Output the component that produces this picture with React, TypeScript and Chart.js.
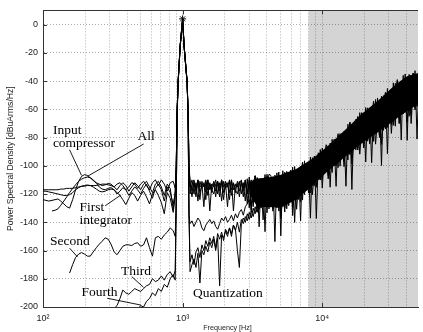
import React, { useEffect, useRef } from 'react';
import { Chart, registerables } from 'chart.js';

Chart.register(...registerables);

// ---------- axes ----------
const X_MIN = 100;
const X_MAX = 48500;
const Y_MIN = -200;
const Y_MAX = 10;
const X_TICKS = [100, 200, 300, 400, 500, 600, 700, 800, 900, 1000, 2000, 3000, 4000, 5000, 6000, 7000, 8000, 9000, 10000, 20000, 30000, 40000];
const X_TICK_LABELS: Record<number, string> = { 100: '10\u00B2', 1000: '10\u00B3', 10000: '10\u2074' };
const Y_TICKS = [-200, -180, -160, -140, -120, -100, -80, -60, -40, -20, 0];
const SHADE_FROM = 8000;
const X_TITLE = 'Frequency [Hz]';
const Y_TITLE = 'Power Spectral Density [dBuArms/Hz]';

// ---------- frequency grids ----------
const F_LO = [100, 105, 110, 116, 122, 128, 134, 141, 148, 155, 163, 171, 180, 189, 198, 208, 218, 229, 241, 253, 265, 279, 293, 307, 323, 339, 356, 373, 392, 412, 432, 454, 476, 500, 525, 551, 579, 608, 638, 670, 704, 739, 776, 815, 856, 885];
const F_PEAK = [900, 914, 929, 960, 1000, 1025, 1076, 1093, 1111];
const F_HI = [1130, 1167, 1206, 1246, 1287, 1330, 1374, 1419, 1466, 1515,
  1565, 1617, 1670, 1725, 1782, 1841, 1902, 1965, 2030, 2097,
  2167, 2238, 2312, 2389, 2468, 2550, 2634, 2721, 2811, 2904,
  3000, 3099, 3202, 3308, 3417, 3530, 3647, 3768, 3892, 4021,
  4154, 4292, 4434, 4580, 4732, 4888, 5050, 5217, 5390, 5568,
  5752, 5943, 6139, 6342, 6552, 6769, 6993, 7224, 7463, 7710,
  7965, 8229, 8501, 8782, 9073, 9373, 9683, 10003, 10334, 10676,
  11030, 11395, 11772, 12161, 12564, 12979, 13409, 13852, 14311, 14784,
  15274, 15779, 16301, 16841, 17398, 17974, 18568, 19183, 19818, 20474,
  21151, 21851, 22574, 23321, 24093, 24890, 25714, 26565, 27444, 28352,
  29290, 30260, 31261, 32296, 33364, 34469, 35609, 36788, 38005, 39263,
  40563, 41905, 43292, 44724, 46204, 47734, 49313];

// dense part of the shaped-noise band (where traces overlap solidly)
const BAND_F = [3000, 3417, 3892, 4434, 5050, 5752, 6552, 7463, 8501, 9683, 11030, 12564, 14311, 16301, 18568, 21151, 24093, 27444, 31261, 35609, 40563, 46204, 49313];
const BAND_TOP = [-112, -109.1, -108.4, -107.7, -106.4, -104.3, -102.2, -98.6, -95, -90.4, -85.8, -80.6, -75.3, -70, -64.5, -59.8, -55.4, -50.4, -45.2, -40.6, -36.6, -35, -34.2];
const BAND_BOT = [-120, -128.8, -129.2, -129.4, -129.8, -126.8, -123.8, -119, -114.25, -108.9, -103.55, -99, -94.4, -89.8, -85.1, -81.2, -77.5, -73.5, -69.3, -65.2, -61.2, -57.6, -55.8];

// ---------- signal peak ----------
const PEAK_UPPER = [-100, -60, -40, -15, 4, -15, -40, -60, -100];
const PEAK_LOWER = [-125, -62, -41, -16, 4, -16, -41, -62, -135];
const TONE_F = [1000];
const TONE_DB = [4];

// ---------- series (dB) ----------
const OUT_LO = [-117, -117, -117, -117, -117, -117, -116.5, -116.5, -116, -116,
  -116, -115.5, -115, -114.5, -114.5, -114, -114, -114, -114, -113.5,
  -113, -113, -113.5, -114, -115, -113, -112, -114, -117, -115,
  -112, -113, -116, -113, -111, -114, -117, -112, -110, -114,
  -110, -113, -118, -112, -111, -116];
const OUT_HI = [-111, -118, -112, -122, -110, -115, -113, -129, -111, -117,
  -113, -119, -111, -118, -112, -122, -110, -115, -113, -129,
  -111, -117, -113, -119, -111, -118, -112, -122, -110, -127,
  -108, -131.2, -109.9, -125, -108.3, -143.2, -110.5, -129, -106.2, -133.3,
  -111.3, -126.6, -107.7, -153.7, -105, -132.1, -107, -127.5, -104.5, -130.5,
  -106.4, -121.8, -101, -140.1, -105.6, -122.6, -100.4, -124.3, -96.5, -115.2,
  -97.3, -137.1, -94.3, -114.1, -94.4, -109, -88.5, -109.9, -90.95, -101.4,
  -85.8, -115.2, -81.3, -100.1, -81.1, -101.4, -77.2, -93.1, -77, -114.5,
  -70.6, -92.2, -73.1, -87.3, -67.2, -88.9, -62.4, -79.9, -62.6, -97.3,
  -59, -80.3, -59.6, -82.75, -53.1, -73.75, -56.6, -99.8, -50.4, -74,
  -45.3, -68.8, -45.8, -71.4, -41.6, -61.4, -42.8, -81.8, -36, -62.2,
  -40.4, -65, -35.8, -55.5, -32.7, -81.1, -34.8];

const INPUT_LO = [-124, -124.5, -125, -124.5, -124, -123.5, -125, -127, -129, -130,
  -124, -117, -111, -107.5, -106.3, -106.8, -108.5, -110.5, -112, -113,
  -114, -113.5, -112.5, -113, -115, -117, -114, -112, -114, -118,
  -115, -112, -114, -117, -113, -111, -115, -119, -113, -111,
  -115, -121, -113, -116, -131, -118];
const INPUT_HI = [-115, -110, -120, -112, -125, -111, -116, -113, -118.5, -110,
  -132, -113, -115, -110, -120, -112, -125, -111, -116, -113,
  -119, -110, -132, -113, -115, -111, -120, -112, -125, -109.2,
  -129.8, -111.3, -126.2, -107.2, -132.7, -109.4, -129, -111.7, -146.7, -106,
  -125.1, -109, -132.2, -106.6, -129.8, -109.1, -149.6, -103.5, -129.8, -105.5,
  -123.9, -107.3, -129.6, -100.5, -123.8, -102.4, -139.1, -98.7, -115, -99.5,
  -119.2, -93.9, -113, -94.4, -137.3, -94.5, -110.1, -87.4, -103.9, -87.9,
  -107, -83.9, -101.3, -83.6, -114.6, -77.3, -93, -77.2, -96.9, -77,
  -90.8, -69.25, -116.8, -69.6, -88.8, -65.1, -82.5, -65, -87.2, -58.75,
  -81.2, -59.3, -97.8, -60, -73.2, -52, -78.5, -52.9, -72, -48.2,
  -91.4, -48.65, -70.9, -41.3, -64, -42.2, -70, -43.4, -63.2, -35,
  -82, -37.5, -54.8, -34.5, -60.5, -36.6, -54.4];

const ALL_LO = [null, null, null, -132, -131.5, -130.5, -128, -125, -122, -119,
  -116, -113.5, -111, -109.5, -108.5, -108, -108.5, -110, -112.5, -115,
  -116.5, -117, -116, -115.5, -117, -120, -118, -115.5, -117, -121,
  -118, -115, -117, -120, -116, -113, -118, -123, -116, -113,
  -117, -125, -115, -119, -127, -120];
const ALL_HI = [-113, -122, -111, -116, -110, -119, -114, -112, -124, -110,
  -117, -113, -113, -122, -111, -116, -110, -119, -114, -112,
  -124, -110, -117, -113, -113, -122, -111, -116, -110, -120,
  -114, -110, -129, -107, -117, -111, -112, -125, -108, -116,
  -106, -107, -130.8, -115.2, -128.3, -109.1, -137.4, -118.5, -132.8, -104,
  -128.3, -111.7, -122.5, -104.7, -130.8, -112.9, -125.5, -98.7, -120.4, -104.7,
  -114, -97.7, -120.5, -104.25, -115.25, -90.8, -110.1, -95.7, -103.9, -88.6,
  -109.3, -94.3, -104.8, -81.2, -100.2, -85.7, -94.2, -78.4, -100.6, -84.5,
  -95.9, -70.5, -91.1, -75.6, -84.8, -67.75, -91.8, -74.5, -87.15, -60.15,
  -82.6, -66.3, -76.6, -58.55, -84.7, -66.5, -80, -50.8, -75, -57.3,
  -68.3, -48.65, -77.1, -57.15, -72, -40.6, -66.8, -48.2, -60, -39.8,
  -69.2, -49.35, -64, -34.5, -59.1, -42.3, -53];

const FIRST_LO = [-118, -118, -118.5, -119, -119.5, -120, -120.5, -121, -121, -120.5,
  -119, -117, -115.5, -114.5, -114, -113.6, -114, -115, -116.5, -118,
  -118.5, -118, -117, -116.5, -117, -119, -121, -124, -127.5, -123,
  -119, -121, -125, -121, -118, -122, -127, -120, -117, -121,
  -126, -134, -119, -123, -133, -122];
const FIRST_HI = [-120, -113, -110, -118, -112, -124, -111, -115, -110, -121,
  -112, -117, -120, -113, -111, -118, -112, -124, -111, -115,
  -110, -121, -112, -117, -120, -113, -110, -118, -112, -118.8,
  -110.3, -132.4, -114.9, -107.2, -127.6, -121.1, -110.5, -138.3, -117, -107.4,
  -130.6, -118.2, -108.2, -125.2, -114.3, -104.5, -134.4, -120, -107.5, -126.1,
  -113.7, -103, -135.3, -113.2, -102.8, -123.9, -106.4, -97.4, -115, -110,
  -98.6, -119.3, -103, -93.1, -110.4, -100.5, -90.9, -115.8, -93.3, -85.1,
  -104.7, -95.5, -84.8, -96.6, -88.3, -78.5, -100.3, -85.7, -75.8, -92,
  -78.2, -69.25, -98.8, -80.8, -69, -87.6, -73.1, -62.35, -79, -71.1,
  -60.4, -84.5, -63.9, -54.25, -76.1, -68, -55.1, -84.9, -60, -48.2,
  -72.9, -58, -45.8, -63.5, -49.6, -39, -70, -54.6, -40.8, -60.6,
  -46.8, -35.3, -70.1, -46.5, -35.6, -58.1, -40.4];

const SECOND_LO = [null, null, null, null, null, null, null, null, null, -176,
  -170, -165, -162.5, -161.5, -162.5, -164, -164, -161, -158, -155.5,
  -153.5, -151, -152, -155.5, -161, -163, -160, -157, -156, -156,
  -156.5, -155, -154.5, -157, -156, -151, -158, -164, -151, -150,
  -152, -149, -147, -144, -146, -150];
const SECOND_HI = [-141, -139, -143, -140, -137, -139, -144, -146, -142, -140,
  -138, -141, -139, -143, -145, -141, -137, -139, -136, -140,
  -138, -135, -139, -134, -137, -133, -131, -135, -129, -127,
  -124, -128, -121, -125, -118];

const THIRD_LO = [null, null, null, null, null, null, null, null, null, null,
  null, null, null, null, null, null, null, null, null, null,
  null, null, null, null, -201, -199, -194, -188, -190, -191,
  -189, -187, -188, -189, -187, -185, -184, -180, -182, -181,
  -178, -181, -177, -175, -179, -174];
const THIRD_HI = [-168, -163, -170, -161, -158, -165, -156, -160, -153, -157,
  -151, -155, -150, -158, -148, -152, -147, -153, -145, -148,
  -144, -150, -142, -146, -140, -147, -138, -141, -136, -139,
  -133, -137, -130, -134, -127, -131, -124, -128, -121, -126,
  -118];

const FOURTH_LO = [null, null, null, null, null, null, null, null, null, null,
  null, null, null, null, null, null, null, null, null, null,
  null, null, null, null, null, null, null, null, null, null,
  null, null, -202, -199, -200, -196, -194, -190, -192, -187,
  -189, -184, -186, -180, -177, -181];
const FOURTH_HI = [-175, -170, -166, -172, -162, -183, -160, -163, -157, -161,
  -154, -158, -152, -160, -151, -185, -149, -151, -146, -150,
  -144, -148, -142, -145, -160, -172, -141, -137, -140, -134,
  -138, -132, -136, -129, -133, -126, -130, -123, -127, -120,
  -124];

// ---------- annotations (data coordinates) ----------
const ANNOTATIONS = [
  { text: 'Input', f: 117.7, db: -77.6 },
  { text: 'compressor', f: 117.7, db: -86.7 },
  { text: 'All', f: 476, db: -81.8 },
  { text: 'First', f: 182.6, db: -131.9 },
  { text: 'integrator', f: 182.6, db: -141.2 },
  { text: 'Second', f: 112.1, db: -156.2 },
  { text: 'Third', f: 361.5, db: -177.1 },
  { text: 'Fourth', f: 188.7, db: -192.4 },
  { text: 'Quantization', f: 1187, db: -193.1 },
];
const POINTERS = [
  [155, -88.7, 188.7, -106.8],
  [525.5, -84.6, 208, -107.5],
  [278.5, -128.4, 361.5, -120.7],
  [155, -158.3, 176.5, -164.5],
  [432, -178.5, 525.5, -186.1],
  [288, -193.8, 501, -198.6],
];

type Pt = { x: number; y: number };
function build(lo: (number | null)[], peak: number[], hi: number[]): Pt[] {
  const a: Pt[] = [];
  lo.forEach((v, i) => { if (v !== null) a.push({ x: F_LO[i], y: v }); });
  peak.forEach((v, i) => a.push({ x: F_PEAK[i], y: v }));
  hi.forEach((v, i) => a.push({ x: F_HI[i], y: v }));
  return a;
}

const SERIES = [
  { label: 'Output', data: build(OUT_LO, PEAK_UPPER, OUT_HI) },
  { label: 'Input compressor', data: build(INPUT_LO, PEAK_UPPER, INPUT_HI) },
  { label: 'All', data: build(ALL_LO, PEAK_UPPER, ALL_HI) },
  { label: 'First integrator', data: build(FIRST_LO, PEAK_UPPER, FIRST_HI) },
  { label: 'Second', data: build(SECOND_LO, PEAK_LOWER, SECOND_HI) },
  { label: 'Third', data: build(THIRD_LO, PEAK_LOWER, THIRD_HI) },
  { label: 'Fourth', data: build(FOURTH_LO, PEAK_LOWER, FOURTH_HI) },
];

const SANS = '"Liberation Sans", Arial, sans-serif';
const SERIF = '"Liberation Serif", "Times New Roman", serif';

const decor = {
  id: 'decor',
  beforeDraw(chart: any) {
    const { ctx, chartArea: a, scales } = chart;
    const gx = scales.x.getPixelForValue(SHADE_FROM);
    ctx.save();
    ctx.fillStyle = '#d4d4d4';
    ctx.fillRect(gx, a.top, a.right - gx, a.bottom - a.top);
    ctx.restore();
  },
  afterDraw(chart: any) {
    const { ctx, chartArea: a, scales } = chart;
    const xs = scales.x;
    const ys = scales.y;
    ctx.save();
    ctx.strokeStyle = '#333';
    ctx.lineWidth = 1;
    ctx.beginPath();
    ctx.moveTo(a.left, Math.round(a.top) + 0.5);
    ctx.lineTo(a.right, Math.round(a.top) + 0.5);
    ctx.stroke();
    ctx.beginPath();
    [100, 1000, 10000].forEach((v) => {
      const px = Math.round(xs.getPixelForValue(v)) + 0.5;
      ctx.moveTo(px, a.bottom);
      ctx.lineTo(px, a.bottom - 4);
      ctx.moveTo(px, a.top);
      ctx.lineTo(px, a.top + 4);
    });
    Y_TICKS.forEach((v) => {
      const py = Math.round(ys.getPixelForValue(v)) + 0.5;
      ctx.moveTo(a.left, py);
      ctx.lineTo(a.left + 4, py);
    });
    ctx.stroke();
    ctx.strokeStyle = '#000';
    ctx.lineWidth = 0.9;
    ctx.beginPath();
    POINTERS.forEach(([f1, d1, f2, d2]) => {
      ctx.moveTo(xs.getPixelForValue(f1), ys.getPixelForValue(d1));
      ctx.lineTo(xs.getPixelForValue(f2), ys.getPixelForValue(d2));
    });
    ctx.stroke();
    ctx.fillStyle = '#000';
    ctx.font = '13.5px ' + SERIF;
    ctx.textAlign = 'left';
    ctx.textBaseline = 'alphabetic';
    ANNOTATIONS.forEach((n) => {
      ctx.fillText(n.text, xs.getPixelForValue(n.f), ys.getPixelForValue(n.db));
    });
    ctx.fillStyle = '#222';
    ctx.font = '7.2px ' + SANS;
    ctx.textAlign = 'center';
    ctx.textBaseline = 'middle';
    ctx.fillText(X_TITLE, (a.left + a.right) / 2 - 3, 328.5);
    ctx.translate(11, (a.top + a.bottom) / 2);
    ctx.rotate(-Math.PI / 2);
    ctx.font = '8.6px ' + SANS;
    ctx.fillText(Y_TITLE, 0, 0);
    ctx.restore();
  },
};

export default function App() {
  const ref = useRef<HTMLCanvasElement>(null);
  useEffect(() => {
    const datasets: any[] = [
      {
        label: 'band top',
        data: BAND_F.map((f, i) => ({ x: f, y: BAND_TOP[i] })),
        borderWidth: 0,
        borderColor: 'rgba(0,0,0,0)',
        backgroundColor: '#000',
        pointRadius: 0,
        fill: '+1',
      },
      {
        label: 'band bottom',
        data: BAND_F.map((f, i) => ({ x: f, y: BAND_BOT[i] })),
        borderWidth: 0,
        borderColor: 'rgba(0,0,0,0)',
        pointRadius: 0,
        fill: false,
      },
    ];
    SERIES.forEach((s) => datasets.push({
      label: s.label,
      data: s.data,
      borderColor: '#000',
      borderWidth: 1,
      pointRadius: 0,
      tension: 0,
      fill: false,
    }));
    datasets.push({
      label: 'Tone',
      data: TONE_F.map((f, i) => ({ x: f, y: TONE_DB[i] })),
      showLine: false,
      pointStyle: 'star',
      pointRadius: 3.5,
      borderColor: '#000',
      borderWidth: 1,
      backgroundColor: '#000',
    });
    const chart = new Chart(ref.current as HTMLCanvasElement, {
      type: 'line',
      data: { datasets },
      options: {
        animation: false,
        responsive: false,
        events: [],
        layout: { padding: { top: 5, right: 0, left: 0, bottom: 0 } },
        plugins: { legend: { display: false }, tooltip: { enabled: false }, filler: { propagate: false } },
        scales: {
          x: {
            type: 'logarithmic',
            min: X_MIN,
            max: X_MAX,
            afterBuildTicks: (s: any) => { s.ticks = X_TICKS.map((v) => ({ value: v })); },
            afterFit: (s: any) => { s.height = 25; },
            ticks: {
              autoSkip: false,
              maxRotation: 0,
              padding: 6,
              color: '#222',
              font: { family: SANS, size: 9 },
              callback: (v: any) => X_TICK_LABELS[Number(v)] || '',
            },
            grid: { color: 'rgba(0,0,0,0.32)', lineWidth: 1, drawTicks: false },
            border: { display: true, color: '#333', width: 1, dash: [1, 2] },
          },
          y: {
            type: 'linear',
            min: Y_MIN,
            max: Y_MAX,
            afterBuildTicks: (s: any) => { s.ticks = Y_TICKS.map((v) => ({ value: v })); },
            afterFit: (s: any) => { s.width = 43; },
            ticks: {
              padding: 5,
              color: '#222',
              font: { family: SANS, size: 9 },
              callback: (v: any) => String(v),
            },
            grid: { color: 'rgba(0,0,0,0.32)', lineWidth: 1, drawTicks: false },
            border: { display: true, color: '#333', width: 1, dash: [1, 2] },
          },
        },
      },
      plugins: [decor],
    } as any);
    return () => chart.destroy();
  }, []);
  return (
    <canvas
      ref={ref}
      width={423}
      height={332}
      style={{ position: 'fixed', left: 0, top: 0, width: 423, height: 332, display: 'block' }}
    />
  );
}
